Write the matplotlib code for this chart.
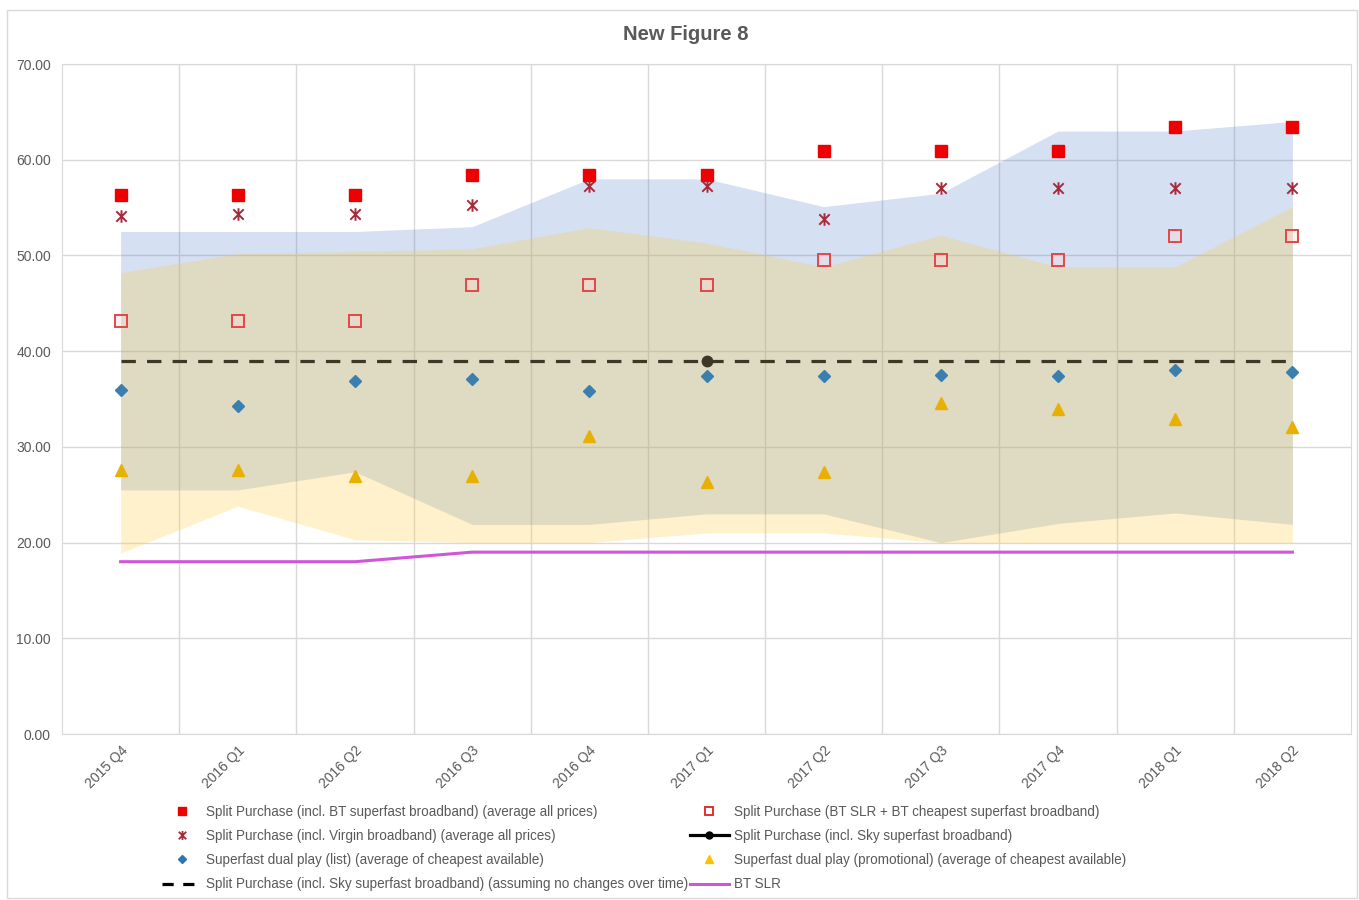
import numpy as np
import matplotlib
matplotlib.use("Agg")
import matplotlib.pyplot as plt
from matplotlib.path import Path
from matplotlib.lines import Line2D
from matplotlib.patches import Rectangle

plt.rcParams['font.family'] = ['Liberation Sans', 'DejaVu Sans']

# quarters on the x axis
quarters = ['2015 Q4', '2016 Q1', '2016 Q2', '2016 Q3', '2016 Q4', '2017 Q1',
            '2017 Q2', '2017 Q3', '2017 Q4', '2018 Q1', '2018 Q2']

# point series
bt_avg = [56.3, 56.3, 56.3, 58.4, 58.4, 58.4, 60.9, 60.9, 60.9, 63.4, 63.4]
virgin_avg = [54.1, 54.3, 54.3, 55.3, 57.3, 57.3, 53.8, 57.0, 57.0, 57.0, 57.0]
bt_slr_cheapest = [43.2, 43.2, 43.2, 46.9, 46.9, 46.9, 49.5, 49.5, 49.5, 52.0, 52.0]
sky = [np.nan, np.nan, np.nan, np.nan, np.nan, 39.0, np.nan, np.nan, np.nan, np.nan, np.nan]
sky_const = [39.0] * 11
dual_list = [35.9, 34.3, 36.9, 37.1, 35.8, 37.4, 37.4, 37.5, 37.4, 38.0, 37.8]
dual_promo = [27.6, 27.6, 27.0, 27.0, 31.1, 26.3, 27.4, 34.6, 34.0, 32.9, 32.1]
bt_slr = [18.0, 18.0, 18.0, 19.0, 19.0, 19.0, 19.0, 19.0, 19.0, 19.0, 19.0]

# range bands (list / promotional)
list_hi = [52.5, 52.5, 52.5, 53.0, 58.0, 58.0, 55.1, 56.5, 63.0, 63.0, 64.0]
list_lo = [25.5, 25.5, 27.4, 21.9, 21.9, 23.0, 23.0, 20.0, 22.0, 23.1, 21.9]
promo_hi = [48.2, 50.2, 50.4, 50.7, 52.9, 51.3, 48.8, 52.1, 48.8, 48.8, 55.1]
promo_lo = [18.9, 23.8, 20.3, 20.0, 20.0, 21.0, 21.0, 20.0, 20.0, 20.0, 20.0]

x = np.arange(len(quarters))
grey = '#595959'
gridc = '#D9D9D9'

fig = plt.figure(figsize=(13.59, 9), dpi=100)
fig.patches.append(Rectangle((7 / 1359, 2 / 900), 1350 / 1359, 888 / 900,
                             transform=fig.transFigure, fill=False,
                             edgecolor='#D9D9D9', linewidth=1))
ax = fig.add_axes([62 / 1359, 1 - 734 / 900, 1289 / 1359, 670 / 900])

ax.fill_between(x, list_lo, list_hi, color='#4472C4', alpha=0.22, linewidth=0, zorder=1)
ax.fill_between(x, promo_lo, promo_hi, color='#FFCB33', alpha=0.25, linewidth=0, zorder=1.5)

# excel style star: an x with a vertical bar
star = Path([(-1, -1), (1, 1), (-1, 1), (1, -1), (0, -1.2), (0, 1.2)],
            [Path.MOVETO, Path.LINETO, Path.MOVETO, Path.LINETO, Path.MOVETO, Path.LINETO])

ax.plot(x, bt_slr, color='#D155D8', linewidth=2.2, zorder=3)
ax.plot(x, sky_const, color='#3B3826', linewidth=2.3, dashes=(4.5, 3.5), zorder=3)
ax.plot(x, sky, color='#3B3826', marker='o', markersize=7.5, linestyle='none', zorder=4)
ax.plot(x, bt_avg, linestyle='none', marker='s', markersize=8, color='#EE0000', zorder=4)
ax.plot(x, virgin_avg, linestyle='none', marker=star, markersize=9, markeredgewidth=1.4,
        color='#A52A3A', zorder=4)
ax.plot(x, bt_slr_cheapest, linestyle='none', marker='s', markersize=8.5,
        markerfacecolor=(1, 0.85, 0.85, 0.35), markeredgecolor='#E04848',
        markeredgewidth=1.4, zorder=4)
ax.plot(x, dual_list, linestyle='none', marker='D', markersize=6, color='#3A7FAE', zorder=4)
ax.plot(x, dual_promo, linestyle='none', marker='^', markersize=8, color='#E8B000', zorder=4)

ax.set_xlim(-0.5, len(quarters) - 0.5)
ax.set_ylim(0, 70)
ax.set_yticks(np.arange(0, 71, 10))
ax.set_yticklabels(['%.2f' % v for v in np.arange(0, 71, 10)])
ax.set_xticks(x)
ax.set_xticklabels(quarters, rotation=45, ha='right', rotation_mode='anchor')
ax.set_xticks(np.arange(0.5, len(quarters) - 1, 1), minor=True)
ax.tick_params(axis='both', which='both', length=0, colors=grey, labelsize=10)
ax.tick_params(axis='x', pad=7)
ax.tick_params(axis='y', pad=8)
ax.grid(axis='y', which='major', color=gridc, linewidth=1)
ax.grid(axis='x', which='minor', color=gridc, linewidth=1)
ax.set_axisbelow(True)
for s in ax.spines.values():
    s.set_color(gridc)

fig.text(686 / 1359, 1 - 34 / 900, 'New Figure 8', ha='center', va='center',
         fontsize=14.5, fontweight='bold', color=grey)

handles = [
    Line2D([], [], linestyle='none', marker='s', markersize=6, color='#EE0000'),
    Line2D([], [], linestyle='none', marker=star, markersize=6.5, markeredgewidth=1.3, color='#A52A3A'),
    Line2D([], [], linestyle='none', marker='D', markersize=4.5, color='#2E75B6'),
    Line2D([], [], color='black', linewidth=2.3, dashes=(3.5, 3)),
    Line2D([], [], linestyle='none', marker='s', markersize=6, markerfacecolor='none',
           markeredgecolor='#E02020', markeredgewidth=1.3),
    Line2D([], [], color='black', linewidth=2.3, marker='o', markersize=5),
    Line2D([], [], linestyle='none', marker='^', markersize=6, color='#FFC000'),
    Line2D([], [], color='#D155D8', linewidth=2.2),
]
labels = [
    'Split Purchase (incl. BT superfast broadband) (average all prices)',
    'Split Purchase (incl. Virgin broadband) (average all prices)',
    'Superfast dual play (list) (average of cheapest available)',
    'Split Purchase (incl. Sky superfast broadband) (assuming no changes over time)',
    'Split Purchase (BT SLR + BT cheapest superfast broadband)',
    'Split Purchase (incl. Sky superfast broadband)',
    'Superfast dual play (promotional) (average of cheapest available)',
    'BT SLR',
]
leg = fig.legend(handles, labels, ncol=2, frameon=False, fontsize=9.75,
                 loc='upper left', bbox_to_anchor=(150 / 1359, 1 - 793 / 900),
                 handlelength=2.9, handletextpad=0.35, labelspacing=0.74, columnspacing=0.1)
for t in leg.get_texts():
    t.set_color(grey)

fig.savefig('out.png', dpi=100)
